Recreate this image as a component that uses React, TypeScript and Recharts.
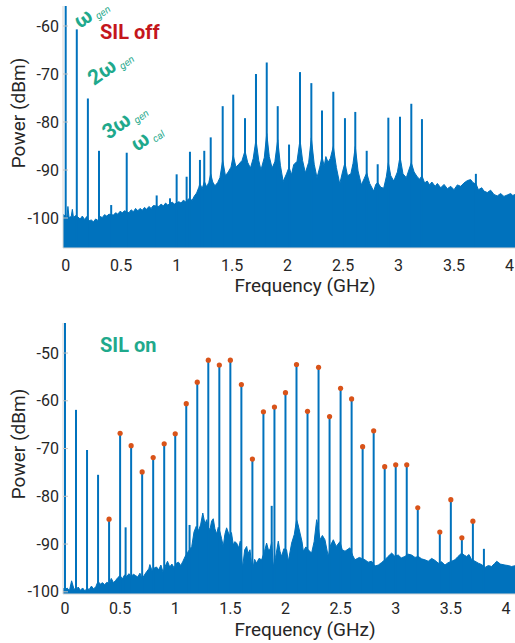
import React from 'react';
import { ComposedChart, Area, XAxis, YAxis, ReferenceLine, Scatter, Label } from 'recharts';

// ---------- data ----------
const freqTicks = [0, 0.5, 1, 1.5, 2, 2.5, 3, 3.5, 4];
const offPowerTicks = [-100, -90, -80, -70, -60];
const onPowerTicks = [-100, -90, -80, -70, -60, -50];

// SIL off: discrete spectral lines [GHz, dBm]
const offPeaks: [number, number][] = [
  [0, -40], [0.1, -60.7], [0.2, -75.1], [0.3, -86.0], [0.41, -97.3], [0.55, -86.4],
  [0.82, -95.3], [0.94, -95.9], [1.0, -90.9], [1.09, -91.4], [1.12, -86.2],
  [1.21, -87.9], [1.249, -86.0], [1.307, -83.2], [1.415, -76.7], [1.51, -74.3],
  [1.616, -79.2], [1.715, -70.0], [1.812, -67.6], [1.911, -76.7], [2.013, -84.7],
  [2.112, -69.6], [2.214, -71.9], [2.31, -77.6], [2.412, -73.7], [2.517, -79.2],
  [2.61, -77.9], [2.713, -86.0], [2.812, -88.8], [2.908, -79.1], [3.013, -78.9],
  [3.115, -76.2], [3.211, -79.4], [3.697, -90.8],
];

// SIL off: noise floor envelope [GHz, dBm]
const offNoise: [number, number][] = [
  [-0.03, -99.2], [0.0, -99.6], [0.01, -100.1], [0.02, -97.6], [0.03, -99.9], [0.05, -99.7],
  [0.06, -98.2], [0.07, -99.9], [0.09, -99.5], [0.11, -99.8], [0.13, -100.2], [0.15, -99.6],
  [0.17, -100.3], [0.19, -99.7], [0.21, -100.6], [0.23, -100.4], [0.25, -100.8], [0.27, -100.2],
  [0.29, -100.5], [0.31, -99.7], [0.33, -99.9], [0.35, -99.3], [0.37, -99.6], [0.39, -99.2],
  [0.43, -99.4], [0.45, -98.9], [0.47, -99.2], [0.49, -98.6], [0.51, -98.9], [0.53, -98.5],
  [0.57, -98.9], [0.59, -98.3], [0.61, -98.7], [0.63, -98.0], [0.65, -98.5], [0.67, -98.0],
  [0.69, -98.4], [0.71, -97.8], [0.73, -98.2], [0.75, -97.6], [0.77, -98.0], [0.79, -97.4],
  [0.84, -97.6], [0.86, -97.1], [0.88, -97.5], [0.9, -96.9], [0.92, -97.3], [0.96, -96.7],
  [0.98, -97.1], [1.02, -96.6], [1.04, -96.9], [1.06, -96.3], [1.08, -96.6], [1.11, -96.0],
  [1.14, -96.3], [1.16, -95.4], [1.18, -94.8], [1.2, -93.6], [1.21, -92.8], [1.23, -93.9],
  [1.25, -92.4], [1.27, -93.5], [1.29, -92.6], [1.307, -90.8], [1.325, -92.5], [1.345, -93.3],
  [1.37, -92.6], [1.39, -91.6], [1.415, -88.0], [1.44, -91.2], [1.465, -90.4], [1.49, -89.4],
  [1.51, -87.0], [1.535, -89.4], [1.56, -88.8], [1.59, -88.0], [1.616, -86.0], [1.64, -88.4],
  [1.665, -89.6], [1.69, -87.6], [1.715, -83.7], [1.74, -88.0], [1.76, -90.0], [1.79, -87.4],
  [1.812, -82.4], [1.835, -87.2], [1.86, -89.6], [1.885, -88.3], [1.911, -83.7], [1.935, -89.0],
  [1.96, -92.4], [1.99, -90.8], [2.013, -89.4], [2.035, -91.0], [2.055, -88.9], [2.085, -88.2],
  [2.112, -83.7], [2.135, -88.0], [2.16, -90.6], [2.19, -88.4], [2.214, -83.3], [2.24, -88.8],
  [2.265, -91.6], [2.29, -89.4], [2.31, -87.2], [2.33, -89.2], [2.345, -87.2], [2.365, -88.4],
  [2.385, -87.6], [2.412, -85.1], [2.44, -89.5], [2.47, -92.9], [2.495, -90.4], [2.517, -88.5],
  [2.54, -91.2], [2.57, -90.8], [2.59, -88.6], [2.61, -85.1], [2.635, -90.2], [2.665, -93.1],
  [2.69, -91.8], [2.713, -90.6], [2.74, -92.8], [2.776, -94.4], [2.795, -93.0], [2.812, -92.6],
  [2.84, -93.6], [2.866, -93.8], [2.89, -91.4], [2.908, -88.5], [2.93, -91.2], [2.957, -92.3],
  [2.99, -90.4], [3.013, -87.2], [3.04, -90.8], [3.07, -91.6], [3.09, -90.2], [3.115, -88.5],
  [3.14, -90.4], [3.168, -91.4], [3.19, -91.9], [3.211, -91.2], [3.235, -92.7], [3.258, -92.3],
  [3.28, -93.1], [3.3, -92.5], [3.33, -93.4], [3.35, -92.8], [3.38, -93.7], [3.41, -93.0],
  [3.44, -93.9], [3.47, -93.4], [3.5, -94.1], [3.53, -93.1], [3.56, -93.4], [3.59, -92.7],
  [3.62, -92.2], [3.65, -92.0], [3.67, -92.6], [3.7, -93.0], [3.72, -94.1], [3.75, -93.7],
  [3.77, -94.4], [3.8, -94.7], [3.83, -94.2], [3.86, -95.1], [3.89, -95.4], [3.92, -94.9],
  [3.95, -95.5], [3.98, -95.2], [4.01, -94.9], [4.03, -95.3], [4.06, -95.0],
];

// SIL on: discrete spectral lines [GHz, dBm]
const onPeaks: [number, number][] = [
  [0, -40], [0.1, -61.9], [0.2, -70.3], [0.3, -75.5], [0.4, -84.8], [0.5, -66.8],
  [0.55, -86.5], [0.6, -69.4], [0.7, -74.9], [0.8, -71.9], [0.9, -69.0], [1.0, -66.9],
  [1.1, -60.6], [1.13, -86.0], [1.2, -56.1], [1.3, -51.5], [1.4, -52.5], [1.5, -51.5],
  [1.6, -56.6], [1.7, -72.2], [1.8, -62.3], [1.875, -82.0], [1.9, -61.3], [2.0, -58.3],
  [2.1, -52.4], [2.2, -62.2], [2.3, -53.0], [2.4, -63.3], [2.5, -57.4], [2.6, -59.6],
  [2.7, -69.6], [2.8, -66.3], [2.9, -73.8], [3.0, -73.4], [3.1, -73.4], [3.2, -82.4],
  [3.4, -87.5], [3.5, -80.7], [3.6, -88.7], [3.7, -85.2], [3.8, -91.0],
];

// SIL on: lines marked with a dot
const onMarkedFreqs = [
  0.4, 0.5, 0.6, 0.7, 0.8, 0.9, 1.0, 1.1, 1.2, 1.3, 1.4, 1.5, 1.6, 1.7, 1.8, 1.9, 2.0,
  2.1, 2.2, 2.3, 2.4, 2.5, 2.6, 2.7, 2.8, 2.9, 3.0, 3.1, 3.2, 3.4, 3.5, 3.6, 3.7,
];

// SIL on: noise floor envelope [GHz, dBm]
const onNoise: [number, number][] = [
  [-0.02, -99.2], [0.0, -99.6], [0.02, -99.2], [0.04, -99.8], [0.06, -97.7], [0.08, -99.3],
  [0.1, -99.6], [0.12, -99.0], [0.14, -99.7], [0.16, -99.2], [0.18, -99.8], [0.2, -99.3],
  [0.22, -99.5], [0.24, -98.8], [0.26, -99.4], [0.28, -98.9], [0.3, -97.8], [0.32, -98.4],
  [0.34, -98.1], [0.36, -98.5], [0.38, -98.0], [0.4, -98.3], [0.42, -97.2], [0.44, -98.1],
  [0.46, -97.6], [0.48, -97.0], [0.5, -96.6], [0.52, -97.3], [0.54, -96.5], [0.56, -96.8],
  [0.58, -96.2], [0.6, -96.9], [0.62, -96.3], [0.64, -96.6], [0.66, -96.9], [0.68, -96.1],
  [0.7, -97.3], [0.72, -96.5], [0.74, -95.8], [0.76, -95.2], [0.77, -94.3], [0.79, -95.6],
  [0.81, -95.0], [0.83, -94.8], [0.85, -95.4], [0.87, -94.4], [0.89, -95.9], [0.91, -94.6],
  [0.93, -93.6], [0.95, -94.8], [0.97, -94.2], [0.99, -95.0], [1.01, -94.0], [1.03, -93.8],
  [1.05, -94.5], [1.07, -93.6], [1.09, -92.6], [1.11, -91.8], [1.15, -90.5], [1.17, -87.5],
  [1.19, -86.3], [1.21, -87.2], [1.23, -86.0], [1.25, -83.5], [1.27, -85.8], [1.285, -84.9],
  [1.3, -86.5], [1.315, -87.0], [1.33, -85.2], [1.345, -84.7], [1.36, -86.8], [1.376, -87.9],
  [1.39, -86.5], [1.406, -87.5], [1.42, -88.8], [1.436, -90.5], [1.45, -88.0], [1.466, -86.6],
  [1.48, -87.5], [1.497, -88.4], [1.51, -87.6], [1.527, -90.2], [1.54, -89.5], [1.557, -89.8],
  [1.575, -90.8], [1.59, -89.4], [1.611, -95.0], [1.63, -91.2], [1.648, -90.5], [1.66, -92.0],
  [1.678, -91.2], [1.69, -93.6], [1.708, -94.7], [1.72, -93.2], [1.738, -94.0], [1.76, -93.0],
  [1.784, -93.3], [1.81, -91.5], [1.829, -89.8], [1.845, -91.2], [1.859, -91.2], [1.875, -89.6],
  [1.89, -94.7], [1.91, -92.8], [1.935, -89.4], [1.95, -91.5], [1.965, -92.6], [1.985, -91.0],
  [2.01, -91.2], [2.026, -93.6], [2.056, -89.8], [2.08, -88.0], [2.101, -84.9], [2.115, -86.0],
  [2.132, -87.7], [2.15, -89.5], [2.162, -91.5], [2.185, -90.6], [2.207, -91.2], [2.237, -91.9],
  [2.26, -89.5], [2.283, -84.9], [2.3, -86.8], [2.313, -89.1], [2.335, -88.2], [2.358, -89.1],
  [2.388, -92.6], [2.41, -90.2], [2.434, -89.1], [2.46, -90.5], [2.494, -89.5], [2.515, -91.2],
  [2.54, -91.5], [2.585, -90.8], [2.61, -92.4], [2.63, -93.3], [2.67, -92.8], [2.721, -93.3],
  [2.75, -93.8], [2.781, -93.6], [2.81, -94.6], [2.842, -94.4], [2.87, -93.9], [2.902, -93.3],
  [2.93, -92.6], [2.963, -91.9], [2.99, -92.5], [3.023, -92.3], [3.05, -92.9], [3.084, -92.6],
  [3.11, -92.1], [3.144, -92.3], [3.175, -92.8], [3.205, -92.6], [3.235, -93.1], [3.265, -93.3],
  [3.295, -93.6], [3.326, -93.0], [3.355, -93.4], [3.386, -94.0], [3.415, -93.7], [3.447, -94.4],
  [3.475, -93.9], [3.507, -93.6], [3.537, -93.3], [3.565, -92.6], [3.598, -91.9], [3.62, -92.3],
  [3.643, -92.6], [3.665, -92.2], [3.689, -93.3], [3.72, -93.6], [3.749, -94.0], [3.78, -94.3],
  [3.81, -94.9], [3.84, -94.5], [3.87, -94.7], [3.895, -94.1], [3.916, -93.6], [3.95, -94.2],
  [3.991, -94.4], [4.02, -94.5], [4.051, -94.7], [4.09, -94.5],
];

// ---------- styling ----------
const BLUE = '#0072BD';
const ORANGE = '#D95319';
const TEAL = '#1FA98C';
const RED = '#C4161C';
const TEXT = '#262626';
const BOX = '#d6d6d6';
const FONT = 'Roboto, "Noto Sans", Arial, sans-serif';

type SpectrumProps = {
  height: number;
  marginTop: number;
  xAxisHeight: number;
  xDomain: [number, number];
  yDomain: [number, number];
  yTicks: number[];
  noise: [number, number][];
  peaks: [number, number][];
  marked?: number[];
  xTickMargin: number;
  xLabelY: number;
  yLabelY: number;
};

function Spectrum(props: SpectrumProps) {
  const { height, marginTop, xAxisHeight, xDomain, yDomain, yTicks, noise, peaks, marked, xTickMargin, xLabelY, yLabelY } = props;
  const noiseData = noise.map(([f, p]) => ({ f, p }));
  const dotData = marked ? peaks.filter(([f]) => marked.includes(f)).map(([f, p]) => ({ f, p })) : [];
  const tickStyle = { fill: TEXT, fontSize: 16, fontFamily: FONT };

  return (
    <ComposedChart width={515} height={height} margin={{ top: marginTop, right: 0, bottom: 0, left: 0 }}>
      <XAxis
        xAxisId="top"
        orientation="top"
        type="number"
        dataKey="f"
        domain={xDomain}
        allowDataOverflow
        ticks={freqTicks}
        height={0}
        tickSize={-5}
        tick={false}
        axisLine={{ stroke: BOX }}
        tickLine={{ stroke: '#c2c2c2' }}
      />
      <XAxis
        type="number"
        dataKey="f"
        domain={xDomain}
        allowDataOverflow
        ticks={freqTicks}
        interval={0}
        height={xAxisHeight}
        tickLine={false}
        tickSize={0}
        tickMargin={xTickMargin}
        axisLine={{ stroke: BOX }}
        tick={tickStyle}
      >
        <Label
          content={() => (
            <text x={305} y={xLabelY} textAnchor="middle" fill={TEXT} fontSize={19} fontFamily={FONT}>
              Frequency (GHz)
            </text>
          )}
        />
      </XAxis>
      <YAxis
        type="number"
        domain={yDomain}
        allowDataOverflow
        ticks={yTicks}
        interval={0}
        width={63}
        tickSize={-5}
        tickMargin={9}
        axisLine={{ stroke: BOX }}
        tickLine={{ stroke: '#c2c2c2' }}
        tick={tickStyle}
      >
        <Label
          content={() => (
            <text
              x={25}
              y={yLabelY}
              transform={`rotate(-90 25 ${yLabelY})`}
              textAnchor="middle"
              fill={TEXT}
              fontSize={19}
              fontFamily={FONT}
            >
              Power (dBm)
            </text>
          )}
        />
      </YAxis>
      <YAxis
        yAxisId="right"
        orientation="right"
        type="number"
        domain={yDomain}
        allowDataOverflow
        ticks={yTicks}
        width={0}
        tickSize={-5}
        tick={false}
        axisLine={false}
        tickLine={{ stroke: '#c2c2c2' }}
      />
      <Area
        data={noiseData}
        dataKey="p"
        type="linear"
        baseValue="dataMin"
        fill={BLUE}
        fillOpacity={1}
        stroke={BLUE}
        strokeWidth={1}
        dot={false}
        activeDot={false}
        isAnimationActive={false}
      />
      {peaks.map(([f, p], i) => (
        <ReferenceLine
          key={`pk-${i}`}
          segment={[{ x: f, y: yDomain[0] }, { x: f, y: p }]}
          stroke={BLUE}
          strokeWidth={2}
          ifOverflow="hidden"
        />
      ))}
      {marked ? (
        <Scatter
          data={dotData}
          dataKey="p"
          isAnimationActive={false}
          shape={(s: any) => <circle cx={s.cx} cy={s.cy} r={2.6} fill={ORANGE} />}
        />
      ) : null}
    </ComposedChart>
  );
}

function Omega({ x, y, main, sub }: { x: number; y: number; main: string; sub: string }) {
  return (
    <text transform={`translate(${x},${y}) rotate(-35)`} fill={TEAL} fontFamily={FONT} fontSize={21} fontWeight="bold">
      {main}
      <tspan fontSize={10} fontWeight="normal" fontStyle="italic" dx={3} dy={3}>
        {sub}
      </tspan>
    </text>
  );
}

export default function App() {
  return (
    <div style={{ position: 'relative', width: 515, height: 643, background: '#fff', overflow: 'hidden' }}>
      <style>{'body{margin:0;}'}</style>
      <div style={{ position: 'absolute', left: 0, top: 0 }}>
        <Spectrum
          height={300}
          marginTop={6}
          xAxisHeight={52}
          xDomain={[-0.0243, 4.0496]}
          yDomain={[-106.25, -55.83]}
          yTicks={offPowerTicks}
          noise={offNoise}
          peaks={offPeaks}
          xTickMargin={11.3}
          xLabelY={292}
          yLabelY={113}
        />
        <svg width={515} height={300} style={{ position: 'absolute', left: 0, top: 0, pointerEvents: 'none' }}>
          <text x={100} y={39.3} fill={RED} fontFamily={FONT} fontSize={20} fontWeight="bold">
            SIL off
          </text>
          <Omega x={80} y={29} main="ω" sub="gen" />
          <Omega x={94} y={86} main="2ω" sub="gen" />
          <Omega x={108.5} y={140} main="3ω" sub="gen" />
          <Omega x={137} y={152} main="ω" sub="cal" />
        </svg>
      </div>
      <div style={{ position: 'absolute', left: 0, top: 300 }}>
        <Spectrum
          height={343}
          marginTop={23}
          xAxisHeight={49}
          xDomain={[-0.018, 4.082]}
          yDomain={[-100.46, -43.71]}
          yTicks={onPowerTicks}
          noise={onNoise}
          peaks={onPeaks}
          marked={onMarkedFreqs}
          xTickMargin={8.6}
          xLabelY={336}
          yLabelY={144}
        />
        <svg width={515} height={343} style={{ position: 'absolute', left: 0, top: 0, pointerEvents: 'none' }}>
          <text x={100} y={51.7} fill={TEAL} fontFamily={FONT} fontSize={20} fontWeight="bold">
            SIL on
          </text>
        </svg>
      </div>
    </div>
  );
}
